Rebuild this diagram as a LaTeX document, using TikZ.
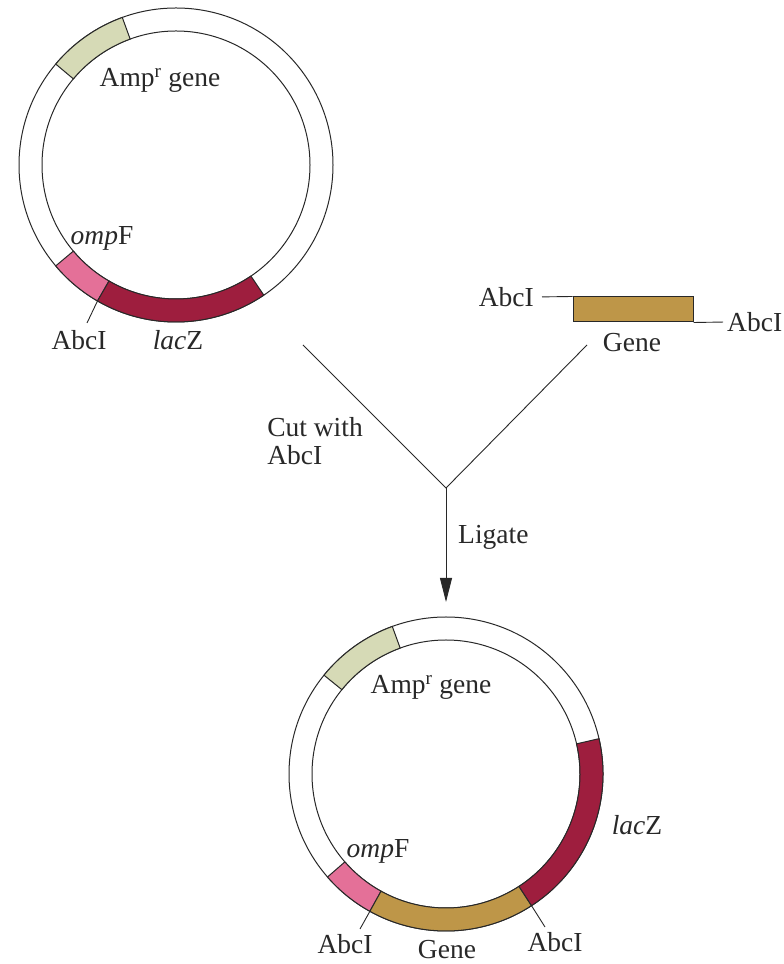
\documentclass[tikz,border=0pt]{standalone}
\usepackage{fontspec}
\setmainfont{Liberation Serif}
\usetikzlibrary{arrows.meta,calc}

\definecolor{ampgreen}{RGB}{214,218,182}
\definecolor{omppink}{RGB}{228,112,152}
\definecolor{laczred}{RGB}{158,30,62}
\definecolor{genegold}{RGB}{190,150,72}
\definecolor{inkgray}{RGB}{40,40,40}

\tikzset{
  ring/.style={draw=inkgray, line width=1pt},
  lbl/.style={font=\fontsize{27.5}{28}\selectfont, inner sep=1pt, text=inkgray},
  tick/.style={draw=inkgray, line width=0.9pt}
}

% one coloured part of a plasmid ring: centre, start angle, end angle, colour
\newcommand{\ringpart}[4]{%
  \filldraw[fill=#4, ring] ($(#1)+(#2:157pt)$) arc[start angle=#2, end angle=#3, radius=157pt]
    -- ($(#1)+(#3:134pt)$) arc[start angle=#3, end angle=#2, radius=134pt] -- cycle;}

\begin{document}
\begin{tikzpicture}[x=1pt, y=1pt]
\useasboundingbox (0,0) rectangle (784,964);

% plasmid before cutting
\coordinate (p1) at (176,799);
\draw[ring] (p1) circle[radius=157pt];
\draw[ring] (p1) circle[radius=134pt];
\ringpart{p1}{110}{140}{ampgreen}
\ringpart{p1}{220}{240}{omppink}
\ringpart{p1}{240}{304}{laczred}

\node[lbl] (a1) at (160,884) {Amp\textsuperscript{r} gene};
\node[lbl] (a2) at (102,726) {\textit{omp}F};
\node[lbl] (a3) at (79,624) {AbcI};
\node[lbl] (a4) at (178,624) {\textit{lac}Z};
\coordinate (c1) at ($(p1)+(240:157pt)$);
\coordinate (k1) at (87,641);
\draw[tick] (c1) -- (k1);

% gene fragment
\node[draw=inkgray, fill=genegold, line width=1pt, minimum width=120pt, minimum height=25pt, inner sep=0pt] (frag) at (633,654.5) {};
\node[lbl, anchor=east] (s1) at (535,667) {AbcI};
\node[lbl, anchor=west] (s2) at (726,642) {AbcI};
\node[lbl] (g1) at (632,621) {Gene};
\draw[tick, shorten <=7pt] (s1.east) -- (frag.north west);
\draw[tick, shorten >=3pt] (frag.south east) -- (s2.west);

% cut and ligate
\coordinate (ya) at (303,619);
\coordinate (yb) at (587,619);
\coordinate (y0) at (446,476);
\coordinate (tip) at (446,362);
\draw[tick] (ya) -- (y0) -- (yb);
\draw[tick, -{Triangle[length=24pt, width=12pt]}] (y0) -- (tip);
\node[lbl, align=left] (cw) at (315,523) {Cut with\\AbcI};
\node[lbl, anchor=west] (lg) at (457,427) {Ligate};

% recombinant plasmid
\coordinate (p2) at (446,190);
\draw[ring] (p2) circle[radius=157pt];
\draw[ring] (p2) circle[radius=134pt];
\ringpart{p2}{110}{141}{ampgreen}
\ringpart{p2}{221}{241}{omppink}
\ringpart{p2}{241}{303}{genegold}
\ringpart{p2}{303}{373}{laczred}

\node[lbl] (b1) at (431,277) {Amp\textsuperscript{r} gene};
\node[lbl] (b2) at (378,113) {\textit{omp}F};
\node[lbl] (b3) at (345,20) {AbcI};
\node[lbl] (b4) at (447,14) {Gene};
\node[lbl] (b5) at (555,22) {AbcI};
\node[lbl] (b6) at (637,139) {\textit{lac}Z};
\coordinate (c2) at ($(p2)+(241:157pt)$);
\coordinate (k2) at (360,35);
\coordinate (c3) at ($(p2)+(303:157pt)$);
\coordinate (k3) at (545,37);
\draw[tick] (c2) -- (k2);
\draw[tick] (c3) -- (k3);
\end{tikzpicture}
\end{document}
